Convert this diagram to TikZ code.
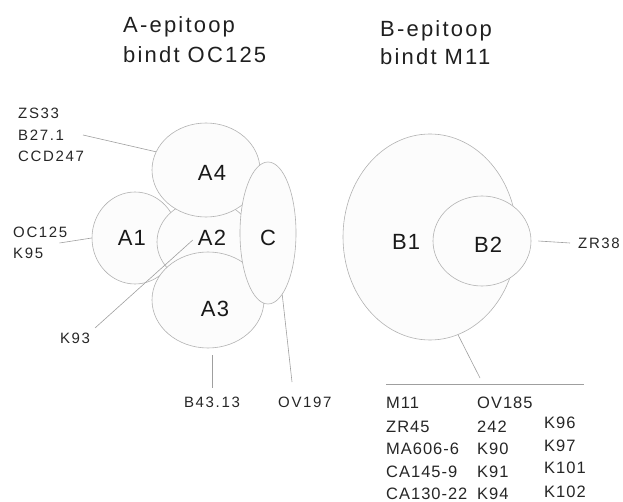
\documentclass[tikz,border=0pt]{standalone}
\usepackage{fontspec}
\setmainfont{Liberation Sans}
\newfontfamily\ttlfont[LetterSpace=10]{Liberation Sans}
\newfontfamily\lblfont[LetterSpace=11]{Liberation Sans}
\newfontfamily\tblfont[LetterSpace=6]{Liberation Sans}
\newfontfamily\bigfont[LetterSpace=5]{Liberation Sans}
\usetikzlibrary{shapes.geometric}
\begin{document}
\begin{tikzpicture}[x=1pt,y=-1pt,
  blob/.style={ellipse, draw=gray!60, fill=gray!2, line width=0.6pt, inner sep=0pt},
  big/.style={font=\bigfont\fontsize{22}{26}\selectfont, text=black!90, inner sep=0pt},
  ttl/.style={font=\ttlfont\fontsize{22}{24}\selectfont, anchor=base west, inner sep=0pt, text=black!88},
  lbl/.style={font=\lblfont\fontsize{15}{21.5}\selectfont, inner sep=0pt, text=black!85, align=left},
  tbl/.style={font=\tblfont\fontsize{16.5}{18}\selectfont, inner sep=0pt, anchor=west, text=black!85},
  conn/.style={draw=gray!75, line width=0.6pt}]
\useasboundingbox (0,0) rectangle (623,502);

% titles
\node[ttl] (ta1) at (123,33) {A-epitoop};
\node[ttl] (ta2) at (123,63) {bindt\hspace{8pt}OC125};
\node[ttl] (tb1) at (380,37) {B-epitoop};
\node[ttl] (tb2) at (380,65) {bindt\hspace{8pt}M11};

% A group ellipses
\node[blob, minimum width=86pt, minimum height=92pt] (A1) at (135,238) {};
\node[blob, minimum width=96pt, minimum height=84pt] (A2) at (205,242) {};
\node[blob, minimum width=112pt, minimum height=96pt] (A3) at (208,300) {};
\node[blob, minimum width=108pt, minimum height=94pt] (A4) at (206,170) {};
\node[blob, minimum width=56pt, minimum height=142pt] (C) at (268,233) {};

\node[big] (lA1) at (132,238) {A1};
\node[big] (lA2) at (212,238) {A2};
\node[big] (lA3) at (215,309) {A3};
\node[big] (lA4) at (212,173) {A4};
\node[big] (lC) at (268,238) {C};

% B group ellipses
\node[blob, minimum width=174pt, minimum height=206pt] (B1) at (430,237) {};
\node[blob, minimum width=98pt, minimum height=90pt] (B2) at (482,241) {};
\node[big] (lB1) at (406,242) {B1};
\node[big] (lB2) at (488,245) {B2};

% left labels
\node[lbl, anchor=west] (zs) at (18,135) {ZS33\\B27.1\\CCD247};
\node[lbl, anchor=west] (oc) at (13,243) {OC125\\K95};
\node[lbl] (k93) at (75,338) {K93};
\node[lbl] (b43) at (212,402) {B43.13};
\node[lbl, anchor=west] (ov197) at (278,402) {OV197};
\node[lbl, anchor=west] (zr) at (578,243) {ZR38};

\coordinate (zse) at (83,135);
\coordinate (k93e) at (95,328);
\coordinate (ove) at (292,382);
\coordinate (b1e) at (480,378);
\coordinate (r1) at (386,384);
\coordinate (r2) at (584,384);

\draw[conn] (zse) -- (A4.160);
\draw[conn] ([xshift=-8pt]oc.east) -- (A1.180);
\draw[conn] (k93e) -- ([xshift=-5pt,yshift=-2pt]lA2.west);
\draw[conn] ([yshift=-7pt]A3.south -| b43.north) -- ([yshift=8pt]b43.north);
\draw[conn] (C.-77) -- (ove);
\draw[conn] ([xshift=7pt]B2.east) -- ([xshift=-8pt]zr.west);
\draw[conn] (B1.-74) -- (b1e);
\draw[conn] (r1) -- (r2);

% table
\node[tbl] (m11) at (386,403) {M11};
\node[tbl] (zr45) at (386,427) {ZR45};
\node[tbl] (ma) at (386,449) {MA606-6};
\node[tbl] (ca1) at (386,472) {CA145-9};
\node[tbl] (ca2) at (386,494) {CA130-22};
\node[tbl] (ov185) at (477,403) {OV185};
\node[tbl] (n242) at (477,427) {242};
\node[tbl] (k90) at (477,449) {K90};
\node[tbl] (k91) at (477,472) {K91};
\node[tbl] (k94) at (477,494) {K94};
\node[tbl] (k96) at (544,423) {K96};
\node[tbl] (k97) at (544,446) {K97};
\node[tbl] (k101) at (544,468) {K101};
\node[tbl] (k102) at (544,492) {K102};
\end{tikzpicture}
\end{document}
